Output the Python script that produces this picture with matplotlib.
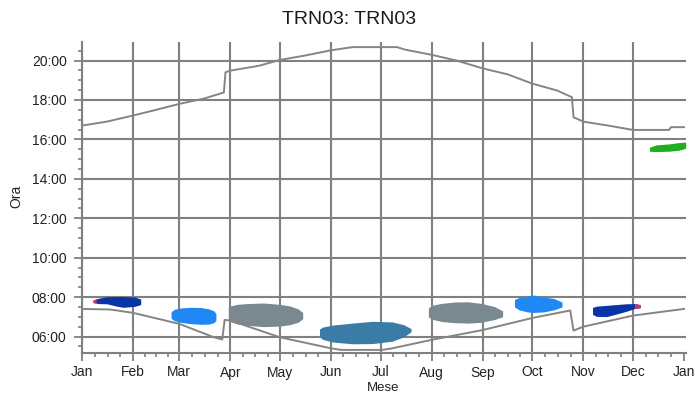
import numpy as np
import matplotlib.pyplot as plt
from matplotlib.ticker import FixedLocator, MultipleLocator

plt.rcParams['font.family'] = ['Liberation Sans', 'DejaVu Sans']

# month starts (day of year) and labels
month_days = [0, 31, 59, 90, 120, 151, 181, 212, 243, 273, 304, 334, 365]
month_labels = ['Jan', 'Feb', 'Mar', 'Apr', 'May', 'Jun', 'Jul',
                'Aug', 'Sep', 'Oct', 'Nov', 'Dec', 'Jan']

# sunset (hours)
sunset_day = [0, 15, 31, 45, 59, 74, 86, 87, 90, 105, 108, 120, 135, 151, 164,
              191, 196, 212, 227, 243, 258, 273, 288, 297, 298, 304, 319, 334,
              349, 356, 357, 365]
sunset_h = [16.70, 16.90, 17.21, 17.50, 17.80, 18.07, 18.38, 19.40, 19.49, 19.70,
            19.75, 20.03, 20.25, 20.52, 20.68, 20.68, 20.55, 20.29, 20.00, 19.60,
            19.30, 18.83, 18.48, 18.14, 17.12, 16.90, 16.70, 16.48, 16.48, 16.48,
            16.62, 16.62]

# sunrise (hours)
sunrise_day = [0, 17, 31, 59, 80, 85, 86.5, 90, 120, 151, 157, 182, 188, 212,
               243, 273, 296, 298, 304, 334, 365]
sunrise_h = [7.40, 7.37, 7.20, 6.64, 5.96, 5.85, 6.84, 6.81, 5.96, 5.40, 5.32,
             5.32, 5.40, 5.83, 6.33, 6.94, 7.32, 6.30, 6.50, 7.06, 7.40]

# shadow periods: day, lower hour, upper hour
jan_d = [6.9, 10, 15, 21, 25, 32, 35.6]
jan_lo = [7.72, 7.67, 7.66, 7.54, 7.48, 7.53, 7.62]
jan_hi = [7.86, 7.94, 8.02, 8.03, 8.03, 8.00, 7.90]

mar_d = [54, 56, 60, 66, 72, 77, 80, 81.2]
mar_lo = [6.92, 6.80, 6.72, 6.65, 6.62, 6.63, 6.70, 6.82]
mar_hi = [7.25, 7.38, 7.45, 7.48, 7.47, 7.40, 7.30, 7.15]

apr_d = [88.7, 90, 94, 100, 110, 120, 126, 131, 133.8]
apr_lo = [6.85, 6.75, 6.64, 6.57, 6.50, 6.53, 6.60, 6.72, 6.90]
apr_hi = [7.45, 7.55, 7.63, 7.67, 7.70, 7.63, 7.55, 7.40, 7.22]

jun_d = [144, 146, 152, 164, 176, 188, 195, 199.5]
jun_lo = [5.98, 5.85, 5.72, 5.63, 5.64, 5.76, 5.98, 6.24]
jun_hi = [6.38, 6.48, 6.58, 6.68, 6.77, 6.74, 6.60, 6.40]

aug_d = [210, 212, 218, 226, 234, 242, 250, 255]
aug_lo = [7.00, 6.88, 6.76, 6.70, 6.68, 6.72, 6.86, 7.00]
aug_hi = [7.45, 7.58, 7.68, 7.75, 7.76, 7.68, 7.52, 7.30]

oct_d = [262.2, 265, 270, 274, 280, 286, 291]
oct_lo = [7.50, 7.35, 7.25, 7.22, 7.25, 7.35, 7.50]
oct_hi = [7.88, 7.98, 8.05, 8.10, 8.00, 7.93, 7.75]

nov_d = [309.5, 312, 318, 324, 330, 335, 338.4]
nov_lo = [7.12, 7.02, 7.01, 7.14, 7.28, 7.42, 7.46]
nov_hi = [7.48, 7.54, 7.58, 7.62, 7.66, 7.67, 7.62]

dec_d = [344, 348, 356, 362, 366]
dec_lo = [15.40, 15.38, 15.40, 15.45, 15.55]
dec_hi = [15.60, 15.72, 15.77, 15.84, 15.86]

# red tips at ends of the dark blue periods
tip1_d = [6.5, 8.5]
tip1_lo = [7.72, 7.70]
tip1_hi = [7.86, 7.90]
tip2_d = [335, 338.4]
tip2_lo = [7.42, 7.46]
tip2_hi = [7.67, 7.62]

blobs = [
    (jan_d, jan_lo, jan_hi, '#0a33a6'),
    (mar_d, mar_lo, mar_hi, '#2088f5'),
    (apr_d, apr_lo, apr_hi, '#7a8890'),
    (jun_d, jun_lo, jun_hi, '#3a7ca6'),
    (aug_d, aug_lo, aug_hi, '#7a8890'),
    (oct_d, oct_lo, oct_hi, '#2088f5'),
    (nov_d, nov_lo, nov_hi, '#0a33a6'),
    (dec_d, dec_lo, dec_hi, '#1fae1f'),
    (tip1_d, tip1_lo, tip1_hi, '#d8306a'),
    (tip2_d, tip2_lo, tip2_hi, '#d8306a'),
]

fig = plt.figure(figsize=(6.98, 3.95), dpi=100)
ax = fig.add_axes([82/698, 42/395, 603.7/698, 311/395])

gcol = '#808080'
for d, lo, hi, c in blobs:
    ax.fill_between(d, lo, hi, color=c, lw=0, zorder=3)

ax.plot(sunset_day, sunset_h, color='#858585', lw=1.4, zorder=4)
ax.plot(sunrise_day, sunrise_h, color='#858585', lw=1.4, zorder=4)

ax.set_xlim(0, 366)
ax.set_ylim(5.163, 20.94)

ax.set_xticks(month_days)
ax.set_xticklabels(month_labels)
minor_x = []
for a, b in zip(month_days[:-1], month_days[1:]):
    minor_x += [a + (b - a) * k / 4 for k in (1, 2, 3)]
ax.xaxis.set_minor_locator(FixedLocator(minor_x))

yt = list(range(6, 21, 2))
ax.set_yticks(yt)
ax.set_yticklabels(['%02d:00' % h for h in yt])
ax.yaxis.set_minor_locator(MultipleLocator(0.5))

ax.grid(True, which='major', color=gcol, lw=1.5, zorder=1)
ax.xaxis.get_gridlines()[-1].set_visible(False)
ax.set_axisbelow(True)

for s in ['top', 'right']:
    ax.spines[s].set_visible(False)
for s in ['left', 'bottom']:
    ax.spines[s].set_color(gcol)
    ax.spines[s].set_linewidth(1.5)

ax.tick_params(which='major', length=6, width=1.3, color=gcol, labelsize=10,
               labelcolor='#222222', pad=5)
ax.tick_params(axis='x', which='major', pad=3)
ax.tick_params(which='minor', length=3, width=1.2, color=gcol)

fig.text(0.5, 1 - 20/395, 'TRN03: TRN03', ha='center', va='center',
         fontsize=14, color='#1a1a1a')
fig.text(16/698, 1 - 196/395, 'Ora', rotation=90, ha='center', va='center',
         fontsize=10, color='#222222')
fig.text(383/698, 1/395, 'Mese', ha='center', va='bottom',
         fontsize=9.5, color='#222222')

fig.savefig('out.png', dpi=100)
